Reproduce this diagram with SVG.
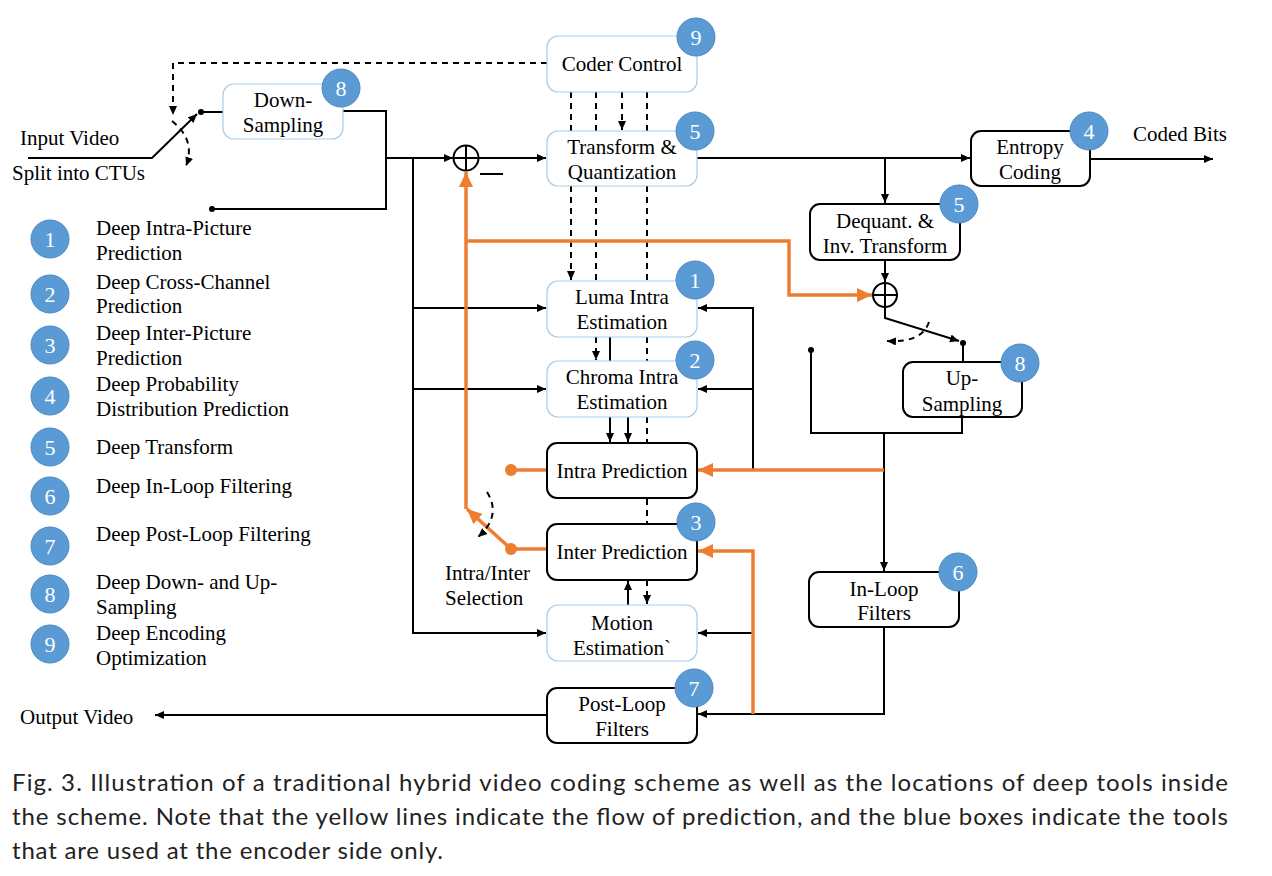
<svg xmlns="http://www.w3.org/2000/svg" width="1272" height="876" viewBox="0 0 1272 876">
<defs>
<marker id="ab" markerUnits="userSpaceOnUse" markerWidth="10" markerHeight="8" refX="9" refY="4" orient="auto"><path d="M0,0 L9,4 L0,8 Z" fill="#000"/></marker>
<marker id="ao" markerUnits="userSpaceOnUse" markerWidth="16" markerHeight="14" refX="15" refY="7" orient="auto"><path d="M0,0 L15,7 L0,14 Z" fill="#ED7D31"/></marker>
</defs>
<style>
text{font-family:"Liberation Serif","Times New Roman",serif;font-size:21px;fill:#000}
.c{text-anchor:middle}
.bb{fill:#fff;stroke:#000;stroke-width:2}
.lb{fill:#fff;stroke:#A9CBEA;stroke-width:1.2}
.bd circle{fill:#5B9BD5;stroke:#4A87C0;stroke-width:1}
.bd text{fill:#fff;font-size:22px;text-anchor:middle}
.ln{fill:none;stroke:#000;stroke-width:2}
.ds{fill:none;stroke:#000;stroke-width:2;stroke-dasharray:6,5}
.or{fill:none;stroke:#ED7D31;stroke-width:3.5}
.cap{font-family:"Lato","Noto Sans",sans-serif;font-size:24px;fill:#222}
</style>
<rect width="1272" height="876" fill="#fff"/>

<g id="connectors">
<polyline class="ln" points="28,158 152,158 197,114" marker-end="url(#ab)"/>
<circle cx="201" cy="112" r="3" fill="#000"/>
<line class="ln" x1="201" y1="112" x2="223" y2="112"/>
<polyline class="ln" points="343,111 386,111 386,209 212,209"/>
<circle cx="212" cy="209" r="3" fill="#000"/>
<line class="ln" x1="386" y1="158" x2="453" y2="158" marker-end="url(#ab)"/>
<polyline class="ln" points="413,158 413,633 546,633" marker-end="url(#ab)"/>
<line class="ln" x1="413" y1="308" x2="546" y2="308" marker-end="url(#ab)"/>
<line class="ln" x1="413" y1="389" x2="546" y2="389" marker-end="url(#ab)"/>
<circle cx="466" cy="158" r="12.5" fill="#fff" stroke="#000" stroke-width="2"/>
<line class="ln" x1="453.5" y1="158" x2="478.5" y2="158"/>
<line class="ln" x1="466" y1="145.5" x2="466" y2="170.5"/>
<line class="ln" x1="480" y1="174" x2="503" y2="174"/>
<line class="ln" x1="479" y1="158" x2="546" y2="158" marker-end="url(#ab)"/>
<polyline class="ds" points="547,63 173,63 173,115" marker-end="url(#ab)"/>
<path class="ds" d="M172,121 Q196,140 186,166" marker-end="url(#ab)"/>
<line class="ds" x1="571" y1="92" x2="571" y2="131"/>
<line class="ds" x1="596" y1="92" x2="596" y2="131"/>
<line class="ds" x1="622" y1="92" x2="622" y2="130" marker-end="url(#ab)"/>
<line class="ds" x1="647" y1="92" x2="647" y2="131"/>
<line class="ds" x1="571" y1="186" x2="571" y2="280" marker-end="url(#ab)"/>
<line class="ds" x1="596" y1="186" x2="596" y2="281"/>
<line class="ds" x1="647" y1="186" x2="647" y2="281"/>
<line class="ds" x1="596" y1="337" x2="596" y2="360" marker-end="url(#ab)"/>
<line class="ln" x1="610" y1="337" x2="610" y2="361"/>
<line class="ds" x1="647" y1="337" x2="647" y2="361"/>
<line class="ln" x1="610" y1="417" x2="610" y2="442" marker-end="url(#ab)"/>
<line class="ln" x1="628" y1="417" x2="628" y2="442" marker-end="url(#ab)"/>
<line class="ds" x1="647" y1="417" x2="647" y2="443"/>
<line class="ds" x1="647" y1="499" x2="647" y2="524"/>
<line class="ln" x1="628" y1="605" x2="628" y2="581" marker-end="url(#ab)"/>
<line class="ds" x1="647" y1="580" x2="647" y2="604" marker-end="url(#ab)"/>
<line class="ln" x1="697" y1="158" x2="970" y2="158" marker-end="url(#ab)"/>
<line class="ln" x1="885" y1="158" x2="885" y2="203" marker-end="url(#ab)"/>
<line class="ln" x1="1090" y1="159" x2="1213" y2="159" marker-end="url(#ab)"/>
<line class="ln" x1="885" y1="260" x2="885" y2="282" marker-end="url(#ab)"/>
<circle cx="885" cy="295" r="12" fill="#fff" stroke="#000" stroke-width="2"/>
<line class="ln" x1="873" y1="295" x2="897" y2="295"/>
<line class="ln" x1="885" y1="283" x2="885" y2="307"/>
<polyline class="ln" points="885,307 885,318 959,341" marker-end="url(#ab)"/>
<circle cx="963" cy="343" r="3" fill="#000"/>
<line class="ln" x1="963" y1="343" x2="963" y2="362"/>
<path class="ds" d="M929,322 Q922,343 887,341" marker-end="url(#ab)"/>
<circle cx="811" cy="350" r="3" fill="#000"/>
<polyline class="ln" points="811,350 811,433 962,433 962,418"/>
<line class="ln" x1="884" y1="433" x2="884" y2="571" marker-end="url(#ab)"/>
<polyline class="ln" points="753,470 753,308 698,308" marker-end="url(#ab)"/>
<line class="ln" x1="753" y1="389" x2="698" y2="389" marker-end="url(#ab)"/>
<polyline class="ln" points="884,627 884,714 698,714" marker-end="url(#ab)"/>
<line class="ln" x1="753" y1="633" x2="698" y2="633" marker-end="url(#ab)"/>
<line class="ln" x1="547" y1="715" x2="155" y2="715" marker-end="url(#ab)"/>
<line class="or" x1="884" y1="470" x2="698" y2="470" marker-end="url(#ao)"/>
<polyline class="or" points="753,714 753,551 698,551" marker-end="url(#ao)"/>
<line class="or" x1="547" y1="470" x2="511" y2="470"/>
<circle cx="511" cy="470" r="6" fill="#ED7D31"/>
<line class="or" x1="547" y1="549" x2="511" y2="549"/>
<circle cx="511" cy="549" r="6" fill="#ED7D31"/>
<line class="or" x1="511" y1="549" x2="467" y2="509" marker-end="url(#ao)"/>
<polyline class="or" points="466,509 466,172" marker-end="url(#ao)"/>
<polyline class="or" points="466,241 789,241 789,295 872,295" marker-end="url(#ao)"/>
<path class="ds" d="M487,492 Q502,516 478,537" marker-end="url(#ab)"/>
</g>

<g id="coder-control"><rect class="lb" x="547" y="36" width="150" height="56" rx="11"/><text class="c" x="622" y="71">Coder Control</text>
<g class="bd"><circle cx="696" cy="37" r="19"/><text x="696" y="45">9</text></g></g>
<g id="down-sampling"><rect class="lb" x="223" y="84" width="120" height="55" rx="11"/><text class="c" x="283" y="107">Down-</text><text class="c" x="283" y="132">Sampling</text>
<g class="bd"><circle cx="341" cy="88" r="19"/><text x="341" y="96">8</text></g></g>
<g id="transform"><rect class="lb" x="547" y="131" width="150" height="55" rx="11"/><text class="c" x="622" y="154">Transform &amp;</text><text class="c" x="622" y="179">Quantization</text>
<g class="bd"><circle cx="695" cy="131" r="19"/><text x="695" y="139">5</text></g></g>
<g id="entropy"><rect class="bb" x="971" y="131" width="119" height="55" rx="10"/><text class="c" x="1030" y="154">Entropy</text><text class="c" x="1030" y="179">Coding</text>
<g class="bd"><circle cx="1089" cy="131" r="19"/><text x="1089" y="139">4</text></g></g>
<g id="dequant"><rect class="bb" x="810" y="204" width="150" height="56" rx="10"/><text class="c" x="885" y="228">Dequant. &amp;</text><text class="c" x="885" y="253">Inv. Transform</text>
<g class="bd"><circle cx="959" cy="204" r="19"/><text x="959" y="212">5</text></g></g>
<g id="luma"><rect class="lb" x="547" y="281" width="150" height="56" rx="11"/><text class="c" x="622" y="304">Luma Intra</text><text class="c" x="622" y="329">Estimation</text>
<g class="bd"><circle cx="695" cy="280" r="19"/><text x="695" y="288">1</text></g></g>
<g id="chroma"><rect class="lb" x="547" y="361" width="150" height="56" rx="11"/><text class="c" x="622" y="384">Chroma Intra</text><text class="c" x="622" y="409">Estimation</text>
<g class="bd"><circle cx="695" cy="360" r="19"/><text x="695" y="368">2</text></g></g>
<g id="intra-pred"><rect class="bb" x="547" y="443" width="150" height="55" rx="10"/><text class="c" x="622" y="478">Intra Prediction</text></g>
<g id="inter-pred"><rect class="bb" x="547" y="524" width="150" height="56" rx="10"/><text class="c" x="622" y="559">Inter Prediction</text>
<g class="bd"><circle cx="696" cy="522" r="19"/><text x="696" y="530">3</text></g></g>
<g id="motion"><rect class="lb" x="547" y="605" width="150" height="56" rx="11"/><text class="c" x="622" y="630">Motion</text><text class="c" x="622" y="655">Estimation`</text></g>
<g id="post-loop"><rect class="bb" x="547" y="688" width="150" height="55" rx="10"/><text class="c" x="622" y="711">Post-Loop</text><text class="c" x="622" y="736">Filters</text>
<g class="bd"><circle cx="694" cy="688" r="19"/><text x="694" y="696">7</text></g></g>
<g id="up-sampling"><rect class="bb" x="903" y="362" width="119" height="55" rx="10"/><text class="c" x="962" y="385">Up-</text><text class="c" x="962" y="411">Sampling</text>
<g class="bd"><circle cx="1020" cy="363" r="19"/><text x="1020" y="371">8</text></g></g>
<g id="in-loop"><rect class="bb" x="809" y="572" width="150" height="55" rx="10"/><text class="c" x="884" y="596">In-Loop</text><text class="c" x="884" y="620">Filters</text>
<g class="bd"><circle cx="958" cy="572" r="19"/><text x="958" y="580">6</text></g></g>

<g id="labels">
<text x="20" y="145">Input Video</text>
<text x="12" y="180">Split into CTUs</text>
<text x="1133" y="141">Coded Bits</text>
<text x="20" y="724">Output Video</text>
<text x="445" y="580">Intra/Inter</text>
<text x="445" y="605">Selection</text>
</g>

<g id="legend">
<g class="bd"><circle cx="50" cy="239" r="19"/><text x="50" y="247">1</text></g>
<text x="96" y="235">Deep Intra-Picture</text><text x="96" y="260">Prediction</text>
<g class="bd"><circle cx="50" cy="294" r="19"/><text x="50" y="302">2</text></g>
<text x="96" y="289">Deep Cross-Channel</text><text x="96" y="313">Prediction</text>
<g class="bd"><circle cx="50" cy="345" r="19"/><text x="50" y="353">3</text></g>
<text x="96" y="340">Deep Inter-Picture</text><text x="96" y="365">Prediction</text>
<g class="bd"><circle cx="50" cy="396" r="19"/><text x="50" y="404">4</text></g>
<text x="96" y="391">Deep Probability</text><text x="96" y="416">Distribution Prediction</text>
<g class="bd"><circle cx="50" cy="447" r="19"/><text x="50" y="455">5</text></g>
<text x="96" y="454">Deep Transform</text>
<g class="bd"><circle cx="50" cy="496" r="19"/><text x="50" y="504">6</text></g>
<text x="96" y="493">Deep In-Loop Filtering</text>
<g class="bd"><circle cx="50" cy="546" r="19"/><text x="50" y="554">7</text></g>
<text x="96" y="541">Deep Post-Loop Filtering</text>
<g class="bd"><circle cx="50" cy="594" r="19"/><text x="50" y="602">8</text></g>
<text x="96" y="589">Deep Down- and Up-</text><text x="96" y="614">Sampling</text>
<g class="bd"><circle cx="50" cy="644" r="19"/><text x="50" y="652">9</text></g>
<text x="96" y="640">Deep Encoding</text><text x="96" y="665">Optimization</text>
</g>

<g id="caption">
<text class="cap" x="12" y="791" textLength="1216" lengthAdjust="spacing">Fig. 3.  Illustration of a traditional hybrid video coding scheme as well as the locations of deep tools inside</text>
<text class="cap" x="12" y="825" textLength="1216" lengthAdjust="spacing">the scheme. Note that the yellow lines indicate the flow of prediction, and the blue boxes indicate the tools</text>
<text class="cap" x="12" y="859" textLength="431" lengthAdjust="spacing">that are used at the encoder side only.</text>
</g>
</svg>
